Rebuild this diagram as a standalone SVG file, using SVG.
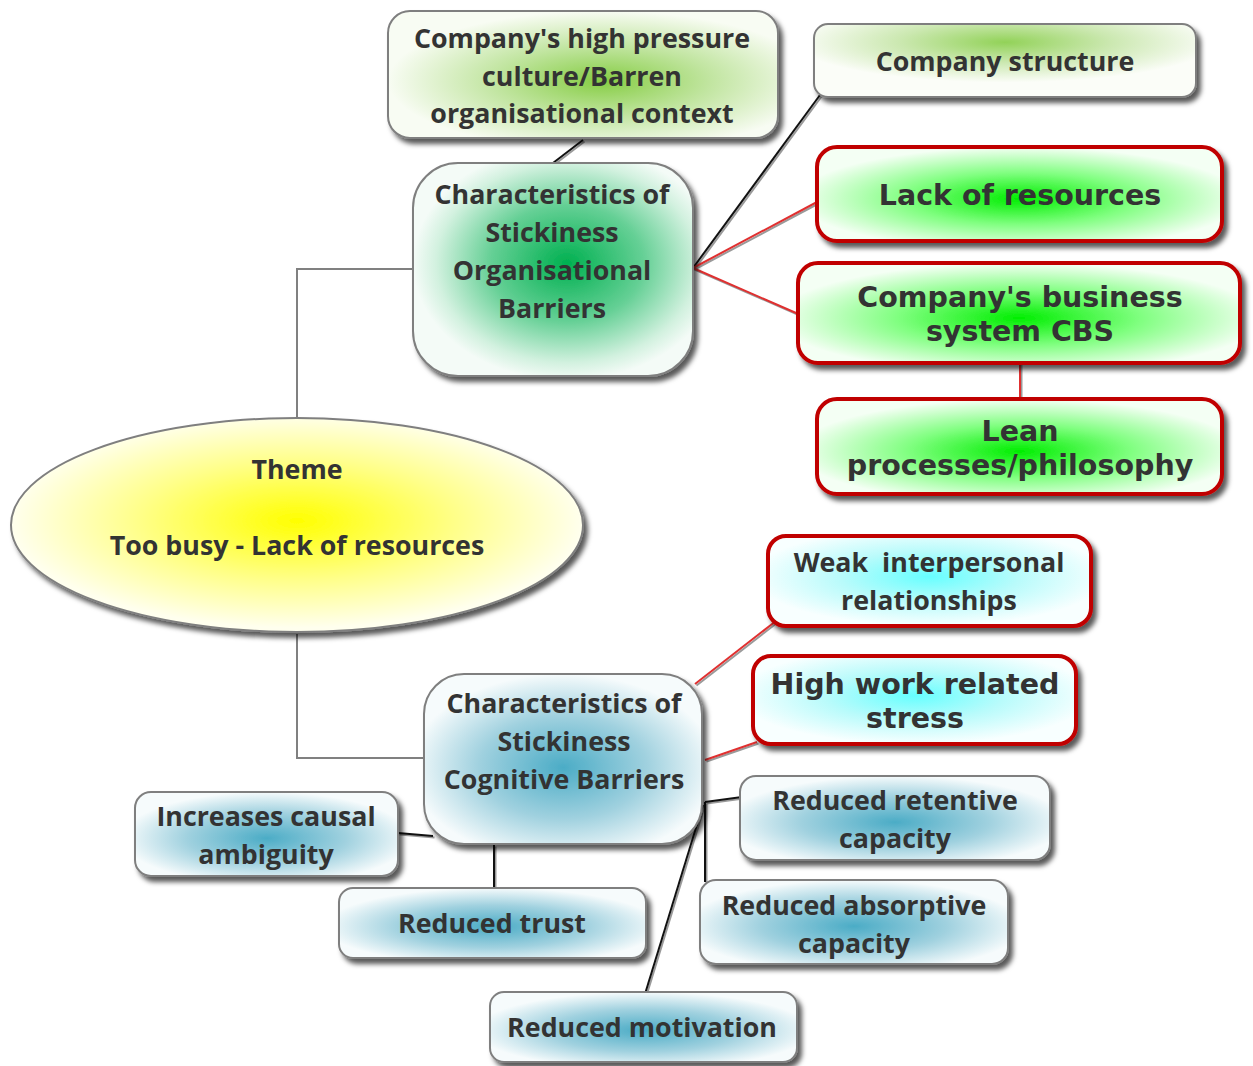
<svg xmlns="http://www.w3.org/2000/svg" width="1253" height="1066" viewBox="0 0 1253 1066">
  <defs>
    <style>
      .box { stroke: #7f7f7f; stroke-width: 2; }
      .hot { stroke: #c00000; stroke-width: 4; }
      .t { font-family: "Open Sans", "Noto Sans", "DejaVu Sans", sans-serif; font-weight: 700; font-size: 26.8px; fill: #333333; text-anchor: middle; }
      .tv { font-family: "DejaVu Sans", "Verdana", sans-serif; font-weight: 700; font-size: 28.5px; fill: #333333; text-anchor: middle; }
      .elbow { fill: none; stroke: #808080; stroke-width: 2; }
      .wire { fill: none; stroke: #111111; stroke-width: 2; }
      .wire-red { fill: none; stroke: #e03030; stroke-width: 2; }
      .wire-shade { fill: none; stroke: #9a9a9a; stroke-width: 2; }
    </style>
    <filter id="shadow" x="-10%" y="-10%" width="125%" height="130%">
      <feDropShadow dx="4" dy="5" stdDeviation="2.5" flood-color="#000000" flood-opacity="0.65"/>
    </filter>
    <radialGradient id="gLime" cx="0.55" cy="0.55" r="0.55">
      <stop offset="0" stop-color="#86cd44"/>
      <stop offset="0.5" stop-color="#c1e5a0"/>
      <stop offset="1" stop-color="#f8fcf3"/>
    </radialGradient>
    <radialGradient id="gLimeTop" cx="0.5" cy="0.25" r="0.55">
      <stop offset="0" stop-color="#92d258"/>
      <stop offset="0.5" stop-color="#cbe8b0"/>
      <stop offset="1" stop-color="#fbfdf8"/>
    </radialGradient>
    <radialGradient id="gEmerald" cx="0.55" cy="0.47" r="0.55">
      <stop offset="0" stop-color="#00b050"/>
      <stop offset="0.5" stop-color="#66d096"/>
      <stop offset="0.85" stop-color="#d2f1df"/>
      <stop offset="1" stop-color="#f4fbf7"/>
    </radialGradient>
    <radialGradient id="gGreen" cx="0.5" cy="0.55" r="0.55">
      <stop offset="0" stop-color="#00ee00"/>
      <stop offset="0.5" stop-color="#80ff80"/>
      <stop offset="1" stop-color="#f4fff4"/>
    </radialGradient>
    <radialGradient id="gCyan" cx="0.5" cy="0.45" r="0.55">
      <stop offset="0" stop-color="#66ffff"/>
      <stop offset="0.5" stop-color="#b8fbfb"/>
      <stop offset="1" stop-color="#f8ffff"/>
    </radialGradient>
    <radialGradient id="gBlue" cx="0.5" cy="0.55" r="0.55">
      <stop offset="0" stop-color="#4bacc6"/>
      <stop offset="0.55" stop-color="#a0d1df"/>
      <stop offset="1" stop-color="#f6fbfc"/>
    </radialGradient>
    <radialGradient id="gYellow" cx="0.5" cy="0.48" r="0.5">
      <stop offset="0" stop-color="#ffff00"/>
      <stop offset="0.55" stop-color="#ffff88"/>
      <stop offset="1" stop-color="#ffffee"/>
    </radialGradient>
  </defs>

  <rect width="1253" height="1066" fill="#ffffff"/>

  <!-- connectors -->
  <g id="connectors">
    <path class="elbow" d="M297,418 V269 H413"/>
    <path class="elbow" d="M297,634 V758 H424"/>

    <g transform="translate(1.5,1.5)">
      <path class="wire-shade" d="M553,163 L583,140"/>
      <path class="wire-shade" d="M693,268 L820,95"/>
      <path class="wire-shade" d="M693,268 L817,202"/>
      <path class="wire-shade" d="M693,268 L803,316"/>
      <path class="wire-shade" d="M1020,363 L1020,399"/>
      <path class="wire-shade" d="M695,684 L776,621"/>
      <path class="wire-shade" d="M705,760 L757,742"/>
      <path class="wire-shade" d="M705,802 L742,797"/>
      <path class="wire-shade" d="M705,802 L705,882"/>
      <path class="wire-shade" d="M703,805 L645,994"/>
      <path class="wire-shade" d="M494,845 L494,888"/>
      <path class="wire-shade" d="M433,836 L398,833"/>
    </g>
    <path class="wire" d="M553,163 L583,140"/>
    <path class="wire" d="M693,268 L820,95"/>
    <path class="wire-red" d="M693,268 L817,202"/>
    <path class="wire-red" d="M693,268 L803,316"/>
    <path class="wire-red" d="M1020,363 L1020,399"/>
    <path class="wire-red" d="M695,684 L776,621"/>
    <path class="wire-red" d="M705,760 L757,742"/>
    <path class="wire" d="M705,802 L742,797"/>
    <path class="wire" d="M705,802 L705,882"/>
    <path class="wire" d="M703,805 L645,994"/>
    <path class="wire" d="M494,845 L494,888"/>
    <path class="wire" d="M433,836 L398,833"/>
  </g>

  <!-- central theme -->
  <g id="theme">
    <ellipse cx="297" cy="525" rx="286" ry="107" fill="url(#gYellow)" stroke="#7f7f7f" stroke-width="2" filter="url(#shadow)"/>
    <text class="t" x="297" y="479">Theme</text>
    <text class="t" x="297" y="555">Too busy - Lack of resources</text>
  </g>

  <!-- organisational branch -->
  <g id="culture">
    <rect class="box" x="388" y="11" width="390" height="127" rx="22" fill="url(#gLime)" filter="url(#shadow)"/>
    <text class="t" x="582" y="48">Company's high pressure</text>
    <text class="t" x="582" y="86">culture/Barren</text>
    <text class="t" x="582" y="123">organisational context</text>
  </g>

  <g id="structure">
    <rect class="box" x="814" y="24" width="382" height="73" rx="14" fill="url(#gLimeTop)" filter="url(#shadow)"/>
    <text class="t" x="1005" y="71">Company structure</text>
  </g>

  <g id="org-barriers">
    <rect class="box" x="413" y="163" width="280" height="213" rx="45" fill="url(#gEmerald)" filter="url(#shadow)"/>
    <text class="t" x="552" y="204">Characteristics of</text>
    <text class="t" x="552" y="242">Stickiness</text>
    <text class="t" x="552" y="280">Organisational</text>
    <text class="t" x="552" y="318">Barriers</text>
  </g>

  <g id="lack">
    <rect class="hot" x="817" y="147" width="405" height="94" rx="20" fill="url(#gGreen)" filter="url(#shadow)"/>
    <text class="tv" x="1020" y="205">Lack of resources</text>
  </g>

  <g id="cbs">
    <rect class="hot" x="798" y="263" width="442" height="100" rx="20" fill="url(#gGreen)" filter="url(#shadow)"/>
    <text class="tv" x="1020" y="307">Company's business</text>
    <text class="tv" x="1020" y="341">system CBS</text>
  </g>

  <g id="lean">
    <rect class="hot" x="817" y="399" width="405" height="95" rx="20" fill="url(#gGreen)" filter="url(#shadow)"/>
    <text class="tv" x="1020" y="441">Lean</text>
    <text class="tv" x="1020" y="475">processes/philosophy</text>
  </g>

  <!-- cognitive branch -->
  <g id="cog-barriers">
    <rect class="box" x="424" y="674" width="278" height="170" rx="40" fill="url(#gBlue)" filter="url(#shadow)"/>
    <text class="t" x="564" y="713">Characteristics of</text>
    <text class="t" x="564" y="751">Stickiness</text>
    <text class="t" x="564" y="789">Cognitive Barriers</text>
  </g>

  <g id="weak">
    <rect class="hot" x="768" y="536" width="323" height="90" rx="18" fill="url(#gCyan)" filter="url(#shadow)"/>
    <text class="t" x="929" y="572" xml:space="preserve">Weak  interpersonal</text>
    <text class="t" x="929" y="610">relationships</text>
  </g>

  <g id="stress">
    <rect class="hot" x="753" y="656" width="323" height="88" rx="18" fill="url(#gCyan)" filter="url(#shadow)"/>
    <text class="tv" x="915" y="694">High work related</text>
    <text class="tv" x="915" y="728">stress</text>
  </g>

  <g id="retentive">
    <rect class="box" x="740" y="776" width="310" height="84" rx="16" fill="url(#gBlue)" filter="url(#shadow)"/>
    <text class="t" x="895" y="810">Reduced retentive</text>
    <text class="t" x="895" y="848">capacity</text>
  </g>

  <g id="absorptive">
    <rect class="box" x="700" y="880" width="308" height="84" rx="16" fill="url(#gBlue)" filter="url(#shadow)"/>
    <text class="t" x="854" y="915">Reduced absorptive</text>
    <text class="t" x="854" y="953">capacity</text>
  </g>

  <g id="motivation">
    <rect class="box" x="490" y="992" width="307" height="70" rx="14" fill="url(#gBlue)" filter="url(#shadow)"/>
    <text class="t" x="642" y="1037">Reduced motivation</text>
  </g>

  <g id="trust">
    <rect class="box" x="339" y="888" width="307" height="70" rx="14" fill="url(#gBlue)" filter="url(#shadow)"/>
    <text class="t" x="492" y="933">Reduced trust</text>
  </g>

  <g id="ambiguity">
    <rect class="box" x="135" y="792" width="263" height="84" rx="16" fill="url(#gBlue)" filter="url(#shadow)"/>
    <text class="t" x="266" y="826">Increases causal</text>
    <text class="t" x="266" y="864">ambiguity</text>
  </g>
</svg>
